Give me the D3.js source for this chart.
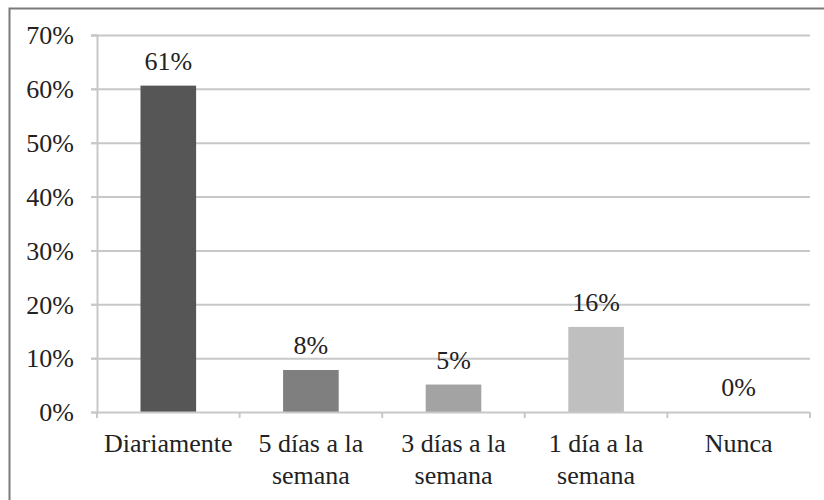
<!DOCTYPE html>
<html><head><meta charset="utf-8">
<script src="https://cdn.jsdelivr.net/npm/d3@7"></script>
</head><body style="margin:0">
<script>
const categories = ["Diariamente", "5 días a la semana", "3 días a la semana", "1 día a la semana", "Nunca"];
const categoryLines = [["Diariamente"], ["5 días a la", "semana"], ["3 días a la", "semana"], ["1 día a la", "semana"], ["Nunca"]];
const values = [0.606, 0.078, 0.051, 0.158, 0.0];
const valueLabels = ["61%", "8%", "5%", "16%", "0%"];
const barColors = ["#565656", "#7f7f7f", "#a3a3a3", "#bfbfbf", "#d9d9d9"];
const yTicks = [0, 0.1, 0.2, 0.3, 0.4, 0.5, 0.6, 0.7];

(function () {
const W = 824, H = 500;
const mLeft = 97, mRight = 810, mTop = 35, mBottom = 412;
const FONT = '"Liberation Serif"';
const FS = "26px";

const svg = d3.select("body").append("svg").attr("width", W).attr("height", H)
  .style("display", "block").style("font-family", FONT);

// outer frame (top and left edges visible)
svg.append("rect").attr("x", 9.5).attr("y", 8.5).attr("width", W + 20).attr("height", H + 20)
  .attr("fill", "none").attr("stroke", "#7a7a7a").attr("stroke-width", 2);

const x = d3.scaleBand().domain(categories).range([mLeft, mRight]).paddingInner(0.61).paddingOuter(0.305);
const y = d3.scaleLinear().domain([0, 0.7]).range([mBottom, mTop]);

// gridlines
svg.append("g").selectAll("line").data(yTicks.filter(d => d > 0)).join("line")
  .attr("x1", mLeft - 6).attr("x2", mRight)
  .attr("y1", d => y(d) + 0.5).attr("y2", d => y(d) + 0.5)
  .attr("stroke", "#c8c8c8").attr("stroke-width", 2);

// y axis
const yAxis = d3.axisLeft(y).tickValues(yTicks).tickFormat(d3.format(".0%")).tickSize(6).tickPadding(17);
const gy = svg.append("g").attr("transform", `translate(${mLeft},0)`).call(yAxis);
gy.attr("font-family", null).attr("font-size", null);
gy.select(".domain").attr("stroke", "#c8c8c8").attr("stroke-width", 2);
gy.selectAll(".tick line").attr("stroke", "#c8c8c8").attr("stroke-width", 2);
gy.selectAll(".tick text").style("font-family", FONT).style("font-size", FS).attr("fill", "#222").attr("dy", "0.34em");

// bars
svg.append("g").selectAll("rect").data(values).join("rect")
  .attr("x", (d, i) => x(categories[i])).attr("width", x.bandwidth())
  .attr("y", d => y(d)).attr("height", d => mBottom - y(d))
  .attr("fill", (d, i) => barColors[i]);

// x axis
const step = x.step();
const gx = svg.append("g");
gx.append("line").attr("x1", mLeft).attr("x2", mRight).attr("y1", mBottom + 0.5).attr("y2", mBottom + 0.5)
  .attr("stroke", "#c8c8c8").attr("stroke-width", 2);
const boundaries = d3.range(categories.length + 1).map(i => mLeft + i * step);
gx.selectAll("line.t").data(boundaries).join("line").attr("class", "t")
  .attr("x1", d => d).attr("x2", d => d).attr("y1", mBottom).attr("y2", mBottom + 6)
  .attr("stroke", "#c8c8c8").attr("stroke-width", 2);

const lab = svg.append("g").selectAll("text").data(categoryLines).join("text")
  .attr("text-anchor", "middle").style("font-family", FONT).style("font-size", FS).attr("fill", "#222")
  .attr("x", (d, i) => x(categories[i]) + x.bandwidth() / 2).attr("y", 452);
lab.selectAll("tspan").data(d => d).join("tspan")
  .attr("x", function() { return d3.select(this.parentNode).attr("x"); })
  .attr("dy", (d, j) => j === 0 ? 0 : 32).text(d => d);

// value labels
svg.append("g").selectAll("text").data(values).join("text")
  .attr("text-anchor", "middle").style("font-family", FONT).style("font-size", FS).attr("fill", "#222")
  .attr("x", (d, i) => x(categories[i]) + x.bandwidth() / 2)
  .attr("y", d => y(d) - 16).text((d, i) => valueLabels[i]);
})();
</script>
</body></html>
